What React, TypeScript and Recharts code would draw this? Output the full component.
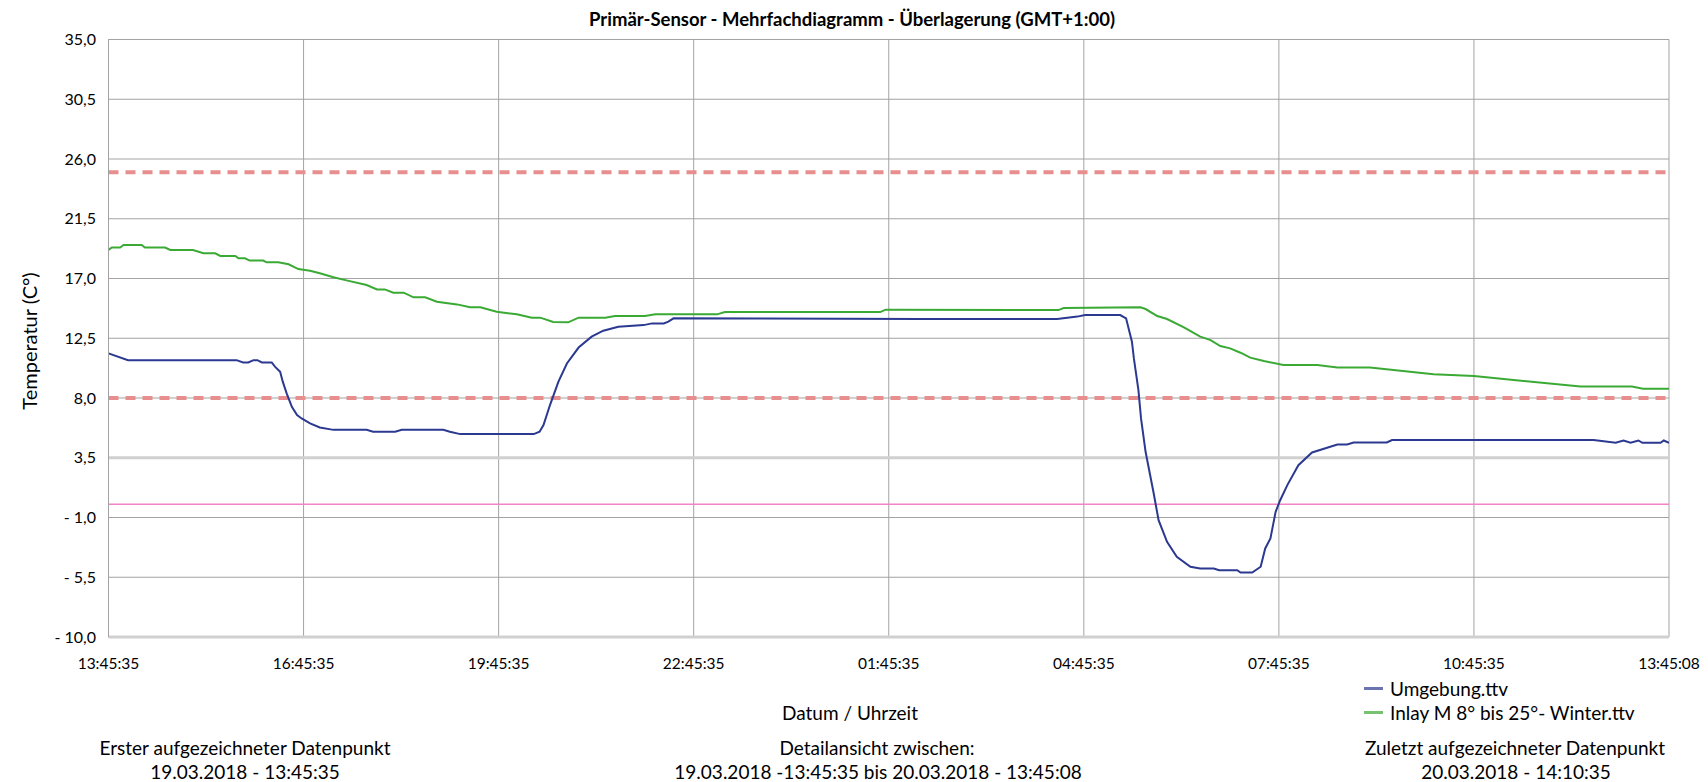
import React from 'react';
import {
  LineChart, Line, XAxis, YAxis, CartesianGrid, ReferenceLine, Legend,
} from 'recharts';

const FONT = 'Lato, "Open Sans", sans-serif';

// x in Stunden ab 19.03.2018 13:45:35
const xTicks = [0, 3, 6, 9, 12, 15, 18, 21, 24];
const xTickLabels = ['13:45:35', '16:45:35', '19:45:35', '22:45:35', '01:45:35', '04:45:35', '07:45:35', '10:45:35', '13:45:08'];
const yTicks = [-10, -5.5, -1, 3.5, 8, 12.5, 17, 21.5, 26, 30.5, 35];
const yTickLabels = ['- 10,0', '- 5,5', '- 1,0', '3,5', '8,0', '12,5', '17,0', '21,5', '26,0', '30,5', '35,0'];
const seriesNames = ['Umgebung.ttv', 'Inlay M 8° bis 25°- Winter.ttv'];

const umgebungHours = [
  0, 0.3, 1.97, 2.07, 2.15, 2.23, 2.29, 2.36, 2.51, 2.56, 2.64, 2.68, 2.74, 2.82, 2.9, 2.97,
  3.1, 3.25, 3.46, 3.97, 4.07, 4.41, 4.51, 5.15, 5.25, 5.41, 6.54, 6.63, 6.69, 6.79, 6.92,
  7.05, 7.23, 7.43, 7.61, 7.84, 8.23, 8.36, 8.54, 8.61, 8.69, 12.48, 14.59, 14.9, 15.02,
  15.56, 15.65, 15.74, 15.77, 15.84, 15.88, 15.95, 16.07, 16.15, 16.28, 16.43, 16.64, 16.79,
  17.0, 17.08, 17.36, 17.41, 17.59, 17.72, 17.79, 17.87, 17.95, 18.02, 18.13, 18.3, 18.51,
  18.9, 19.05, 19.15, 19.66, 19.74, 22.84, 23.18, 23.3, 23.41, 23.53, 23.59, 23.87, 23.92, 24,
];
const umgebungTemps = [
  11.36, 10.85, 10.85, 10.68, 10.68, 10.85, 10.85, 10.68, 10.68, 10.36, 9.98, 9.23, 8.35, 7.34, 6.71, 6.46,
  6.09, 5.78, 5.6, 5.6, 5.46, 5.46, 5.6, 5.6, 5.46, 5.28, 5.28, 5.46, 5.96, 7.47, 9.23,
  10.6, 11.8, 12.62, 13.07, 13.37, 13.49, 13.62, 13.62, 13.75, 14.0, 13.95, 13.95, 14.13, 14.25,
  14.25, 14.0, 12.24, 10.98, 8.59, 6.46, 3.95, 0.94, -1.2, -2.83, -3.96, -4.71, -4.84,
  -4.84, -4.97, -4.97, -5.14, -5.14, -4.71, -3.33, -2.58, -0.57, 0.3, 1.44, 2.94, 3.9,
  4.5, 4.5, 4.65, 4.65, 4.83, 4.83, 4.63, 4.8, 4.63, 4.8, 4.63, 4.63, 4.8, 4.63,
];

const inlayHours = [
  0, 0.05, 0.18, 0.23, 0.51, 0.56, 0.87, 0.95, 1.3, 1.46, 1.64, 1.72, 1.95, 2.0, 2.1, 2.17,
  2.38, 2.43, 2.61, 2.77, 2.92, 3.1, 3.25, 3.46, 3.66, 3.97, 4.13, 4.25, 4.38, 4.54, 4.69,
  4.87, 5.05, 5.36, 5.56, 5.72, 5.97, 6.28, 6.51, 6.64, 6.84, 7.07, 7.23, 7.64, 7.79, 8.25,
  8.41, 9.36, 9.48, 11.87, 11.95, 14.61, 14.69, 15.87, 15.95, 16.13, 16.28, 16.54, 16.79,
  16.95, 17.1, 17.25, 17.41, 17.56, 17.77, 18.07, 18.59, 18.9, 19.4, 20.38, 21.0, 22.64,
  23.43, 23.6, 24,
];
const inlayTemps = [
  19.15, 19.33, 19.33, 19.52, 19.52, 19.33, 19.33, 19.15, 19.15, 18.9, 18.9, 18.7, 18.7, 18.52, 18.52, 18.35,
  18.35, 18.22, 18.22, 18.07, 17.71, 17.59, 17.39, 17.09, 16.86, 16.51, 16.18, 16.18, 15.93, 15.93, 15.58,
  15.58, 15.25, 15.05, 14.83, 14.83, 14.5, 14.3, 14.05, 14.05, 13.72, 13.7, 14.05, 14.05, 14.17, 14.17,
  14.3, 14.3, 14.47, 14.47, 14.65, 14.62, 14.78, 14.83, 14.7, 14.17, 13.95, 13.32, 12.62,
  12.36, 11.91, 11.74, 11.41, 11.04, 10.78, 10.48, 10.48, 10.3, 10.3, 9.78, 9.65, 8.87,
  8.87, 8.7, 8.7,
];

const umgebung = umgebungHours.map((h, i) => ({ h, t: umgebungTemps[i] }));
const inlay = inlayHours.map((h, i) => ({ h, t: inlayTemps[i] }));

const fmtX = (v: number) => xTickLabels[xTicks.indexOf(v)] ?? '';
const fmtY = (v: number) => yTickLabels[yTicks.indexOf(v)] ?? '';

function LegendBox({ payload }: { payload?: { value: string; color: string }[] }) {
  const items = [...(payload || [])].sort((a, b) => seriesNames.indexOf(a.value) - seriesNames.indexOf(b.value));
  return (
    <div style={{ fontFamily: FONT, fontSize: 19, color: '#000' }}>
      {items.map(p => (
        <div key={p.value} style={{ display: 'flex', alignItems: 'center', height: 24 }}>
          <span style={{ width: 19, height: 3, background: p.color, opacity: 0.7, marginRight: 7 }} />
          <span>{p.value}</span>
        </div>
      ))}
    </div>
  );
}

const txt = (x: number, y: number, extra: React.CSSProperties = {}): React.CSSProperties => ({
  position: 'absolute', left: x, top: y, transform: 'translate(-50%, -50%)',
  whiteSpace: 'nowrap', fontFamily: FONT, fontSize: 19, color: '#000', textAlign: 'center', ...extra,
});

export default function App() {
  return (
    <div style={{ position: 'absolute', left: 0, top: 0, width: 1708, height: 782, background: '#fff' }}>
      <div style={txt(852, 19, { fontWeight: 700, fontSize: 18.5 })}>
        Primär-Sensor - Mehrfachdiagramm - Überlagerung (GMT+1:00)
      </div>

      <LineChart width={1708} height={782} data={umgebung}
        margin={{ top: 39.5, right: 39, bottom: 115, left: 8.5 }}>
        <CartesianGrid stroke="#a3a3a3" strokeWidth={1} />
        <XAxis dataKey="h" type="number" domain={[0, 24]} ticks={xTicks} interval={0} height={30}
          tickFormatter={fmtX} tickSize={0} tickMargin={21} allowDataOverflow
          axisLine={{ stroke: '#d0d0d0', strokeWidth: 3 }}
          tick={{ fill: '#000', fontSize: 15.5, fontFamily: FONT }} />
        <YAxis type="number" domain={[-10, 35]} ticks={yTicks} interval={0} width={100}
          tickFormatter={fmtY} tickSize={0} tickMargin={12.5} allowDataOverflow
          axisLine={{ stroke: '#a3a3a3' }}
          tick={{ fill: '#000', fontSize: 16, fontFamily: FONT }} />
        <ReferenceLine y={3.5} stroke="#d0d0d0" strokeWidth={3} />
        <ReferenceLine y={25} stroke="#e88e8e" strokeWidth={4} strokeDasharray="10 7" />
        <ReferenceLine y={8} stroke="#e88e8e" strokeWidth={4} strokeDasharray="10 7" />
        <ReferenceLine y={0} stroke="#f283c6" strokeWidth={1.5} />
        <Line data={umgebung} dataKey="t" name={seriesNames[0]} type="linear" stroke="#2b3990"
          strokeWidth={2} dot={false} isAnimationActive={false} />
        <Line data={inlay} dataKey="t" name={seriesNames[1]} type="linear" stroke="#3aaa35"
          strokeWidth={2} dot={false} isAnimationActive={false} />
        <Legend layout="vertical" align="center" verticalAlign="middle"
          wrapperStyle={{ left: 1364, top: 676, width: 'auto' }}
          content={(props: any) => <LegendBox payload={props.payload} />} />
      </LineChart>

      <div style={txt(29, 341, { fontSize: 20, transform: 'translate(-50%, -50%) rotate(-90deg)' })}>Temperatur (C°)</div>
      <div style={txt(850, 712)}>Datum / Uhrzeit</div>

      <div style={txt(245, 747)}>Erster aufgezeichneter Datenpunkt</div>
      <div style={txt(245, 771)}>19.03.2018 - 13:45:35</div>
      <div style={txt(877, 747)}>Detailansicht zwischen:</div>
      <div style={txt(878, 771)}>19.03.2018 -13:45:35 bis 20.03.2018 - 13:45:08</div>
      <div style={txt(1515, 747)}>Zuletzt aufgezeichneter Datenpunkt</div>
      <div style={txt(1516, 771)}>20.03.2018 - 14:10:35</div>
    </div>
  );
}
